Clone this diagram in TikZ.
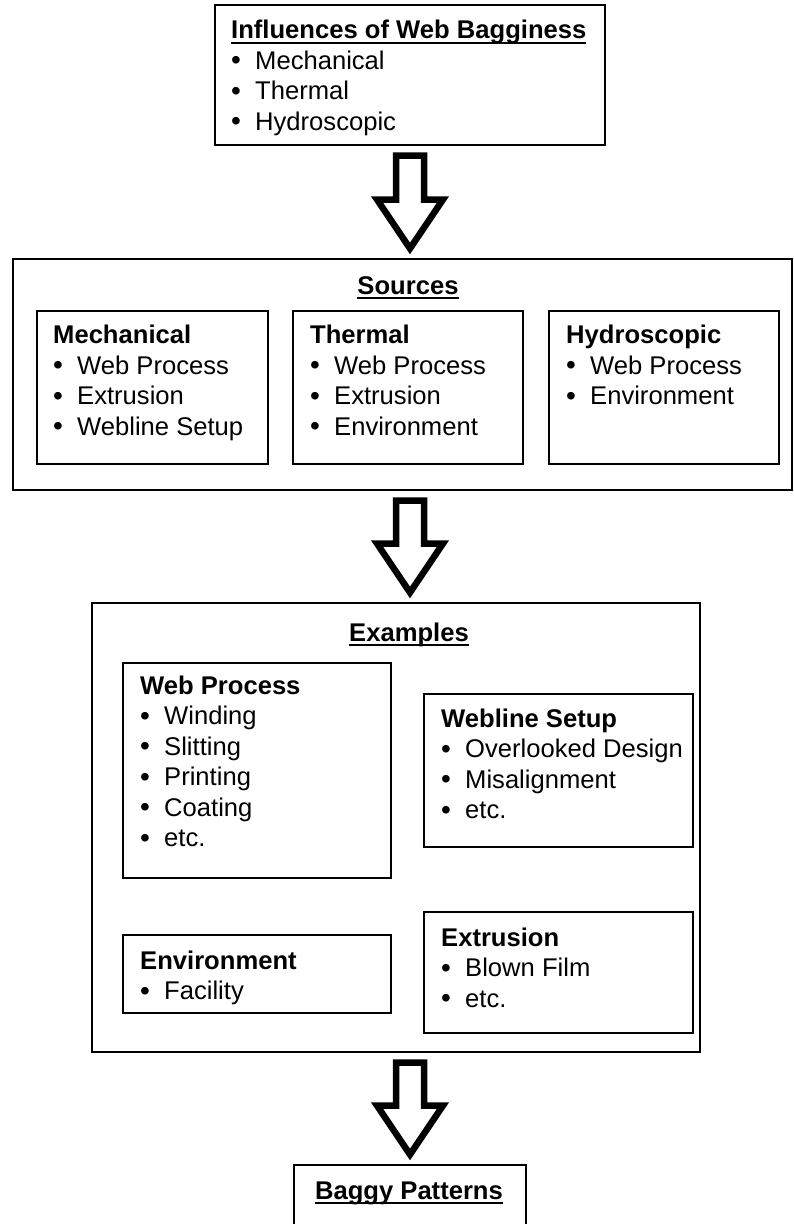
\documentclass[tikz,border=0pt]{standalone}
\usepackage{fontspec}
\setmainfont{Liberation Sans}
\usetikzlibrary{calc}
\newcommand\myul[1]{\setbox0\hbox{#1}\rlap{\rule[-5pt]{\wd0}{2pt}}\box0}
\newcommand\bul{\makebox[24pt][l]{\raisebox{-0.8pt}{\fontsize{28}{30}\selectfont •}}}
\newcommand\mybox[5]{\node[box, minimum width={(#4-#2)*1pt}, minimum height={(#5-#3)*1pt}] (#1) at ({(#2+#4)/2},{(#3+#5)/2}) {};}
\newcommand\blist[5]{%
  \node[ttl] (#1-t) at (#2,#3) {#4};
  \foreach \itm [count=\i] in {#5} {\node[txt] (#1-\i) at (#2,{#3+30.5*\i}) {\bul\itm};}
}
\newcommand\barr[2]{%
  \draw[barrow] let \p1=(ax |- #1.south), \p2=(ax |- #2.north) in
   (\x1-14pt,\y1-10.5pt) -- (\x1+14pt,\y1-10.5pt) -- (\x1+14pt,\y2+59.5pt) -- (\x1+33pt,\y2+59.5pt)
   -- (\x1,\y2+10.5pt) -- (\x1-33pt,\y2+59.5pt) -- (\x1-14pt,\y2+59.5pt) -- cycle;
}
\begin{document}
\begin{tikzpicture}[x=1pt,y=-1pt,
  box/.style={draw, line width=2.4pt, rectangle, inner sep=0pt, outer sep=0pt},
  txt/.style={inner sep=0pt, anchor=base west, font=\fontsize{25.6}{30}\selectfont},
  ttl/.style={txt, font=\fontsize{25.6}{30}\selectfont\bfseries},
  ctitle/.style={ttl, anchor=base},
  barrow/.style={draw, line width=6.5pt, line join=miter, miter limit=10, fill=white}]
\useasboundingbox (0,0) rectangle (794,1224);
\coordinate (ax) at (410,0);

% top box
\mybox{top}{215}{5}{605}{145}
\node[ttl] (top-t) at (231,38.5) {\myul{Influences of Web Bagginess}};
\foreach \itm [count=\i] in {Mechanical,Thermal,Hydroscopic}
  {\node[txt] (top-\i) at (231,{38.5+30.5*\i}) {\bul\itm};}

% sources
\mybox{src}{13}{259}{792}{490}
\node[ctitle] (src-t) at (408,294) {\myul{Sources}};
\mybox{mech}{37}{311}{268}{464}
\mybox{therm}{293}{311}{523}{464}
\mybox{hydro}{549}{311}{779}{464}
\blist{mechl}{53}{343.5}{Mechanical}{Web Process,Extrusion,Webline Setup}
\blist{therml}{310}{343.5}{Thermal}{Web Process,Extrusion,Environment}
\blist{hydrol}{566}{343.5}{Hydroscopic}{Web Process,Environment}

% examples
\mybox{ex}{92}{603}{700}{1052}
\node[ctitle] (ex-t) at (409,641) {\myul{Examples}};
\mybox{wp}{123}{663}{391}{878}
\mybox{ws}{424}{694}{693}{847}
\mybox{env}{123}{935}{391}{1013}
\mybox{extr}{424}{912}{693}{1033}
\blist{wpl}{140}{694}{Web Process}{Winding,Slitting,Printing,Coating,etc.}
\blist{wsl}{441}{727}{Webline Setup}{Overlooked Design,Misalignment,etc.}
\blist{envl}{140}{969}{Environment}{Facility}
\blist{extrl}{441}{946}{Extrusion}{Blown Film,etc.}

% baggy
\mybox{bag}{294}{1165}{526}{1245}
\node[ctitle] (bag-t) at (409,1199) {\myul{Baggy Patterns}};

% block arrows
\barr{top}{src}
\barr{src}{ex}
\barr{ex}{bag}
\end{tikzpicture}
\end{document}
